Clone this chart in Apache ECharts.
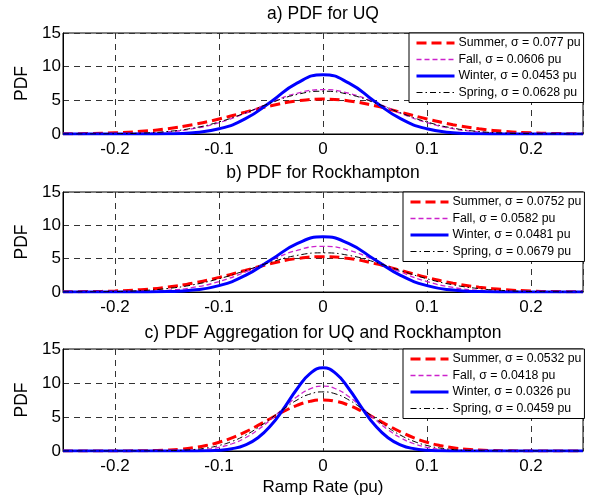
<!DOCTYPE html>
<html><head><meta charset="utf-8">
<script src="https://cdn.jsdelivr.net/npm/echarts@6/dist/echarts.min.js"></script>
<style>html,body{margin:0;padding:0;background:#fff}#c{width:597px;height:499px}</style>
</head><body><div id="c"></div>
<script>
// ---------- data ----------
const xsAB = [-0.25,-0.225,-0.2,-0.175,-0.15,-0.125,-0.1,-0.075,-0.05,-0.025,0,0.025,0.05,0.075,0.1,0.125,0.15,0.175,0.2,0.225,0.25];
const xsC = [-0.25,-0.2375,-0.225,-0.2125,-0.2,-0.1875,-0.175,-0.1625,-0.15,-0.1375,-0.125,-0.1125,-0.1,-0.0875,-0.075,-0.0625,-0.05,-0.0375,-0.025,-0.0125,0,0.0125,0.025,0.0375,0.05,0.0625,0.075,0.0875,0.1,0.1125,0.125,0.1375,0.15,0.1625,0.175,0.1875,0.2,0.2125,0.225,0.2375,0.25];

const seasons = ['Summer','Fall','Winter','Spring'];
const sigmaA = ['0.077','0.0606','0.0453','0.0628'];
const sigmaB = ['0.0752','0.0582','0.0481','0.0679'];
const sigmaC = ['0.0532','0.0418','0.0326','0.0459'];

const summerA = [0.027,0.073,0.178,0.392,0.777,1.387,2.229,3.224,4.196,4.915,5.181,4.915,4.196,3.224,2.229,1.387,0.777,0.392,0.178,0.073,0.027];
const fallA   = [0.001,0.007,0.028,0.102,0.308,0.784,1.687,3.061,4.684,6.046,6.583,6.046,4.684,3.061,1.687,0.784,0.308,0.102,0.028,0.007,0.001];
const winterA = [0,0,0.001,0.005,0.037,0.196,0.770,2.237,4.789,7.563,8.807,7.563,4.789,2.237,0.770,0.196,0.037,0.005,0.001,0,0];
const springA = [0.002,0.010,0.040,0.131,0.367,0.876,1.788,3.114,4.627,5.869,6.353,5.869,4.627,3.114,1.788,0.876,0.367,0.131,0.040,0.010,0.002];

const summerB = [0.021,0.060,0.154,0.354,0.726,1.333,2.191,3.226,4.253,5.020,5.305,5.020,4.253,3.226,2.191,1.333,0.726,0.354,0.154,0.060,0.021];
const fallB   = [0.001,0.004,0.019,0.075,0.248,0.683,1.567,2.988,4.740,6.251,6.855,6.251,4.740,2.988,1.567,0.683,0.248,0.075,0.019,0.004,0.001];
const winterB = [0,0,0.001,0.011,0.064,0.283,0.955,2.459,4.832,7.246,8.294,7.246,4.832,2.459,0.955,0.283,0.064,0.011,0.001,0,0];
const springB = [0.007,0.024,0.077,0.212,0.512,1.079,1.986,3.192,4.480,5.490,5.875,5.490,4.480,3.192,1.986,1.079,0.512,0.212,0.077,0.024,0.007];

const summerC = [0,0,0.001,0.003,0.006,0.015,0.034,0.071,0.141,0.266,0.475,0.802,1.282,1.939,2.776,3.761,4.822,5.849,6.715,7.295,7.499,7.295,6.715,5.849,4.822,3.761,2.776,1.939,1.282,0.802,0.475,0.266,0.141,0.071,0.034,0.015,0.006,0.003,0.001,0,0];
const fallC   = [0,0,0,0,0,0,0.002,0.005,0.015,0.043,0.109,0.255,0.546,1.067,1.908,3.121,4.667,6.382,7.981,9.127,9.544,9.127,7.981,6.382,4.667,3.121,1.908,1.067,0.546,0.255,0.109,0.043,0.015,0.005,0.002,0,0,0,0,0,0];
const winterC = [0,0,0,0,0,0,0,0,0,0.002,0.008,0.032,0.111,0.334,0.868,1.948,3.775,6.315,9.120,11.371,12.238,11.371,9.120,6.315,3.775,1.948,0.868,0.334,0.111,0.032,0.008,0.002,0,0,0,0,0,0,0,0,0];
const springC = [0,0,0,0,0.001,0.002,0.006,0.017,0.042,0.098,0.213,0.431,0.810,1.413,2.288,3.440,4.802,6.226,7.494,8.376,8.692,8.376,7.494,6.226,4.802,3.440,2.288,1.413,0.810,0.431,0.213,0.098,0.042,0.017,0.006,0.002,0.001,0,0,0,0];

const panelTitles = ['a) PDF for UQ','b) PDF for Rockhampton','c) PDF Aggregation for UQ and Rockhampton'];
const yTicks = [0,5,10,15];
const xLabelText = 'Ramp Rate (pu)';
const yLabelText = 'PDF';

// ---------- styling / layout ----------
const FONT = 'Liberation Sans, Arial, Helvetica, sans-serif';
const grids = [
  {left:63, top:33, width:520, height:101},
  {left:63, top:192, width:520, height:100},
  {left:63, top:349, width:520, height:102}
];
const titleY = [14, 173, 333];
const legendPos = [{left:409, top:33},{left:403, top:192},{left:403, top:349}];
const styles = [
  {color:'#ff0000', width:3, type:[10,5]},
  {color:'#cc22cc', width:1.3, type:[5,3]},
  {color:'#0000ff', width:3, type:'solid'},
  {color:'#000000', width:1, type:[6,3,1.5,3]}
];
const panels = [
  {xs:xsAB, ys:[summerA,fallA,winterA,springA], sig:sigmaA},
  {xs:xsAB, ys:[summerB,fallB,winterB,springB], sig:sigmaB},
  {xs:xsC,  ys:[summerC,fallC,winterC,springC], sig:sigmaC}
];

const gridLine = {color:'#333', type:[6,5], width:1};
const xAxes = [], yAxes = [], series = [], legends = [], graphics = [];
panels.forEach((p, i) => {
  xAxes.push({
    type:'value', gridIndex:i, min:-0.25, max:0.25, splitNumber:5,
    axisLine:{show:true, onZero:false, lineStyle:{color:'#000', width:1}},
    axisTick:{show:false},
    axisLabel:{color:'#000', fontSize:17, fontFamily:FONT, margin:7, showMinLabel:false, showMaxLabel:false,
      formatter: v => String(Math.round(v*10)/10)},
    splitLine:{show:true, lineStyle:gridLine},
    name: i === 2 ? xLabelText : '', nameLocation:'middle', nameGap:28,
    nameTextStyle:{color:'#000', fontSize:17, fontFamily:FONT}
  });
  yAxes.push({
    type:'value', gridIndex:i, min:yTicks[0], max:yTicks[yTicks.length-1], interval:5,
    axisLine:{show:true, onZero:false, lineStyle:{color:'#000', width:1}},
    axisTick:{show:false},
    axisLabel:{color:'#000', fontSize:17, fontFamily:FONT, margin:2},
    splitLine:{show:true, lineStyle:gridLine},
    name:yLabelText, nameLocation:'middle', nameGap:32,
    nameTextStyle:{color:'#000', fontSize:17.5, fontFamily:FONT}
  });
  const names = [];
  p.ys.forEach((ys, s) => {
    const name = seasons[s] + ', σ = ' + p.sig[s] + ' pu';
    names.push({name, lineStyle:{width:styles[s].width === 1.3 ? 1.5 : styles[s].width}, itemStyle:{opacity:0, color:'transparent', borderWidth:0}});
    series.push({
      type:'line', name, xAxisIndex:i, yAxisIndex:i,
      data: p.xs.map((x, k) => [x, ys[k]]),
      smooth:true, symbol:'none', animation:false,
      lineStyle:{color:styles[s].color, width:styles[s].width, type:styles[s].type},
      itemStyle:{color:styles[s].color},
      z: 3 + s
    });
  });
  legends.push({
    data:names, orient:'vertical', left:legendPos[i].left, top:legendPos[i].top,
    itemWidth:38, itemHeight:14, itemGap:4.5, padding:[4,3,4,6],
    backgroundColor:'#fff', borderColor:'#000', borderWidth:1, borderRadius:0,
    selectedMode:false, z:10,
    textStyle:{color:'#000', fontSize:12.3, fontFamily:FONT, padding:[0,0,0,-1]}
  });
  graphics.push({
    type:'text', x:323, y:titleY[i],
    style:{text:panelTitles[i], fill:'#000', font:'17.5px ' + FONT, textAlign:'center', textVerticalAlign:'middle'}
  });
});

const chart = echarts.init(document.getElementById('c'), null, {renderer:'canvas'});
chart.setOption({
  animation:false,
  backgroundColor:'#fff',
  grid: grids.map(g => Object.assign({show:true, borderColor:'#000', borderWidth:1, backgroundColor:'transparent', containLabel:false}, g)),
  xAxis:xAxes, yAxis:yAxes, series, legend:legends, graphic:graphics
});
</script></body></html>
